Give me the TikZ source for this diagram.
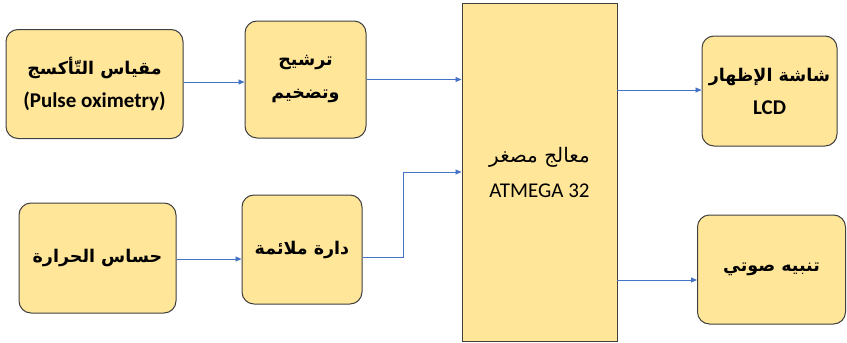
\documentclass[tikz,border=0pt]{standalone}
\usepackage{fontspec}
\setmainfont{Carlito}
\newfontfamily\arabicfont[Script=Arabic]{DejaVu Sans}
\TeXXeTstate=1
\usetikzlibrary{arrows.meta}
\definecolor{boxfill}{HTML}{FFE699}
\definecolor{boxline}{HTML}{404040}
\definecolor{arrowblue}{HTML}{4472C4}
\newcommand{\ar}[1]{{\arabicfont\bfseries\fontsize{17.5}{32}\selectfont\beginR #1\endR}}
\tikzset{
  blk/.style={draw=boxline, line width=1pt, fill=boxfill, rounded corners=12pt, align=center, inner sep=0pt, font=\fontsize{21}{33}\selectfont},
  mcubox/.style={draw=boxline, line width=1pt, fill=boxfill, align=center, inner sep=0pt, font=\fontsize{21}{35}\selectfont},
  link/.style={draw=arrowblue, line width=0.9pt, -{Triangle[length=6pt,width=5pt]}}
}
\begin{document}
\begin{tikzpicture}[x=1pt,y=-1pt]
\useasboundingbox (0,0) rectangle (847,343);
\node[blk, minimum width=177pt, minimum height=109pt] (a) at (94.5,84) {\ar{مقياس التّأكسج}\\\textbf{(Pulse oximetry)}};
\node[blk, minimum width=121pt, minimum height=117pt] (b) at (305.5,79.5) {\ar{ترشيح}\\\ar{وتضخيم}};
\node[blk, minimum width=157pt, minimum height=110pt] (c) at (97.5,258) {\ar{حساس الحرارة}};
\node[blk, minimum width=120pt, minimum height=109pt] (d) at (302,249.5) {\ar{دارة ملائمة}};
\node[mcubox, minimum width=155pt, minimum height=338pt] (m) at (539.5,172) {{\arabicfont\fontsize{20}{35}\selectfont\beginR معالج مصغر\endR}\\ATMEGA 32};
\node[blk, minimum width=135pt, minimum height=110pt] (e) at (769.5,91) {\ar{شاشة الإظهار}\\\textbf{LCD}};
\node[blk, minimum width=148pt, minimum height=109pt] (f) at (771.5,269.5) {\ar{تنبيه صوتي}};
\coordinate (bend1) at (403,257);
\coordinate (i2) at (403,172);
\coordinate (o1) at (617,90);
\coordinate (o2) at (617,280);
\draw[link] (a.east |- 0,82) -- (b.west |- 0,82);
\draw[link] (b.east) -- (b.east -| m.west);
\draw[link] (c.east |- 0,259) -- (d.west |- 0,259);
\draw[link] (d.east |- bend1) -- (bend1) -- (i2) -- (i2 -| m.west);
\draw[link] (o1) -- (o1 -| e.west);
\draw[link] (o2) -- (o2 -| f.west);
\end{tikzpicture}
\end{document}
